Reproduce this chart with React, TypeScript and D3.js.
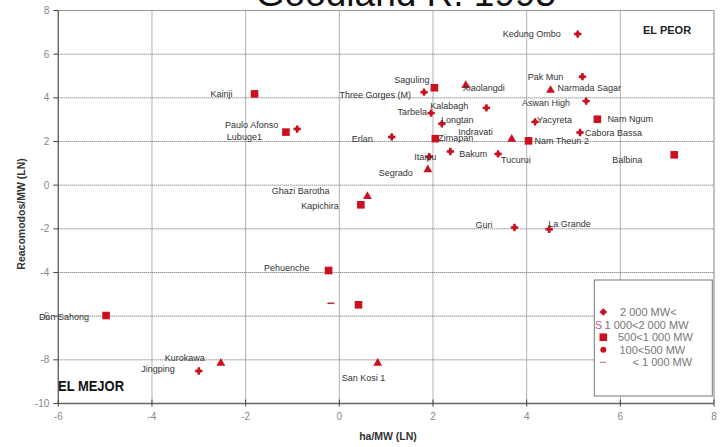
import React from "react";
import * as d3 from "d3";

// ---- data ----
const names = [
  "Kedung Ombo", "Pak Mun", "Narmada Sagar", "Aswan High", "Saguling", "Three Gorges (M)",
  "Xiaolangdi", "Kalabagh", "Tarbela", "Longtan", "Yacyreta", "Nam Ngum", "Cabora Bassa",
  "Indravati", "Nam Theun 2", "Erlan", "Zimapan", "Bakum", "Tucurui", "Itaipu", "Segrado",
  "Paulo Afonso", "Lubuge1", "Kainji", "Ghazi Barotha", "Kapichira", "Guri", "La Grande",
  "Pehuenche", "", "", "Don Sahong", "Kurokawa", "Jingping", "San Kosi 1", "Balbina",
];
const haPerMW = [
  5.09, 5.19, 4.51, 5.27, 2.03, 1.81,
  2.70, 3.14, 1.96, 2.19, 4.18, 5.51, 5.14,
  3.68, 4.04, 1.12, 2.05, 2.37, 3.39, 1.92, 1.89,
  -0.90, -1.14, -1.81, 0.60, 0.46, 3.74, 4.48,
  -0.23, -0.18, 0.41, -4.98, -2.53, -3.00, 0.82, 7.15,
];
const resettledPerMW = [
  6.92, 4.97, 4.37, 3.85, 4.46, 4.26,
  4.59, 3.54, 3.30, 2.81, 2.90, 3.02, 2.41,
  2.13, 2.03, 2.21, 2.13, 1.54, 1.43, 1.30, 0.73,
  2.57, 2.43, 4.18, -0.49, -0.90, -1.94, -2.02,
  -3.91, -5.41, -5.48, -5.97, -8.13, -8.51, -8.13, 1.39,
];
// d = diamond (2 000 MW<), t = 1 000<2 000 MW, s = square, c = circle, m = dash
const sizeClass = [
  "d", "d", "t", "d", "s", "d",
  "t", "d", "d", "d", "d", "s", "d",
  "t", "s", "d", "s", "d", "d", "d", "t",
  "d", "s", "s", "t", "s", "d", "d",
  "s", "m", "s", "s", "t", "d", "t", "s",
];
const xTicks = [-6, -4, -2, 0, 2, 4, 6, 8];
const yTicks = [-10, -8, -6, -4, -2, 0, 2, 4, 6, 8];
const legendLabels = ["2 000 MW<", "1 000<2 000 MW", "500<1 000 MW", "100<500 MW", "< 1 000 MW"];
const legendClasses = ["d", "t", "s", "c", "m"];

// ---- label layout (pixel offsets from marker) ----
const labelLayout: Record<string, [number, number, string]> = {
  "Kedung Ombo": [-17, 0, "end"],
  "Pak Mun": [-19, 0, "end"],
  "Narmada Sagar": [7, -2, "start"],
  "Aswan High": [-16, 2, "end"],
  "Saguling": [-5, -8, "end"],
  "Three Gorges (M)": [-13, 3, "end"],
  "Xiaolangdi": [-3, 3, "start"],
  "Kalabagh": [-18, -2, "end"],
  "Tarbela": [-4, -1, "end"],
  "Longtan": [-1, -4, "start"],
  "Yacyreta": [2, -2, "start"],
  "Nam Ngum": [10, 0, "start"],
  "Cabora Bassa": [5, 0, "start"],
  "Indravati": [-19, -7, "end"],
  "Nam Theun 2": [6, 0, "start"],
  "Erlan": [-19, 2, "end"],
  "Zimapan": [3, -1, "start"],
  "Bakum": [9, 2, "start"],
  "Tucurui": [3, 6, "start"],
  "Itaipu": [-15, 0, "start"],
  "Segrado": [-15, 4, "end"],
  "Paulo Afonso": [-19, -4, "end"],
  "Lubuge1": [-24, 5, "end"],
  "Kainji": [-22, 0, "end"],
  "Ghazi Barotha": [-38, -5, "end"],
  "Kapichira": [-22, 1, "end"],
  "Guri": [-22, -3, "end"],
  "La Grande": [-1, -5, "start"],
  "Pehuenche": [-19, -3, "end"],
  "Don Sahong": [-17, 1, "end"],
  "Kurokawa": [-16, -5, "end"],
  "Jingping": [-24, -2, "end"],
  "San Kosi 1": [-36, 15, "start"],
  "Balbina": [-32, 5, "end"],
};
const legendTextX = [620, 604.5, 618, 619.5, 632.5];

const W = 724, H = 447;
const L = 58.3, R = 714, T = 10.5, B = 403.5;
const RED = "#cc1020";
const FONT = "'Liberation Sans', Arial, sans-serif";

function Marker({ kind, x, y }: { kind: string; x: number; y: number }) {
  if (kind === "s") return <rect x={x - 3.8} y={y - 3.8} width={7.6} height={7.6} fill={RED} />;
  if (kind === "t") {
    const p = d3.symbol(d3.symbolTriangle, 34)();
    return <path d={p || ""} transform={`translate(${x},${y + 0.5})`} fill={RED} />;
  }
  if (kind === "c") return <circle cx={x} cy={y} r={3} fill={RED} />;
  if (kind === "m") return <line x1={x - 3.5} x2={x + 3.5} y1={y} y2={y} stroke="#b8303f" strokeWidth={1.6} />;
  // small star-like dot (diamond class)
  const p = d3.symbol(d3.symbolCross, 30)();
  return (
    <g transform={`translate(${x},${y})`}>
      <path d={p || ""} fill={RED} />
      <circle r={2.3} fill={RED} />
    </g>
  );
}

export default function App() {
  const x = d3.scaleLinear().domain([-6, 8]).range([L, R]);
  const y = d3.scaleLinear().domain([-10, 8]).range([B, T]);

  return (
    <svg width={W} height={H} style={{ position: "absolute", left: 0, top: 0, background: "#fff" }} fontFamily={FONT}>
      <rect x={0} y={0} width={W} height={H} fill="#fff" />
      {/* title, partially cut */}
      <text x={406} y={6} textAnchor="middle" fontSize={37} fill="#111">Goodland R. 1995</text>

      {/* grid */}
      {xTicks.slice(1, -1).map((t) => (
        <line key={"gx" + t} x1={x(t)} x2={x(t)} y1={T} y2={B} stroke="#666" strokeWidth={1} strokeDasharray="1,1" />
      ))}
      {yTicks.slice(1, -1).map((t) => (
        <line key={"gy" + t} x1={L} x2={R} y1={y(t)} y2={y(t)} stroke="#666" strokeWidth={1} strokeDasharray="1,1" />
      ))}

      {/* frame */}
      <line x1={L} x2={R} y1={T} y2={T} stroke="#999" strokeWidth={1.2} />
      <line x1={R} x2={R} y1={T} y2={B} stroke="#999" strokeWidth={1.2} />
      <line x1={L} x2={L} y1={T} y2={B} stroke="#666" strokeWidth={1.4} />
      <line x1={L} x2={R} y1={B} y2={B} stroke="#666" strokeWidth={1.4} />

      {/* ticks */}
      {yTicks.map((t) => (
        <g key={"yt" + t}>
          <line x1={L - 5} x2={L} y1={y(t)} y2={y(t)} stroke="#444" strokeWidth={1} />
          <text x={L - 9} y={y(t) + 3.5} textAnchor="end" fontSize={10} fill="#888">{t}</text>
        </g>
      ))}
      {xTicks.map((t) => (
        <g key={"xt" + t}>
          <line x1={x(t)} x2={x(t)} y1={B - 4} y2={B + 3} stroke="#444" strokeWidth={1} />
          <text x={x(t)} y={B + 16} textAnchor="middle" fontSize={10} fill="#888">{t}</text>
        </g>
      ))}

      {/* axis titles */}
      <text x={388} y={440} textAnchor="middle" fontSize={10.5} fontWeight="bold" fill="#333">ha/MW (LN)</text>
      <text transform={`translate(25,214) rotate(-90)`} textAnchor="middle" fontSize={10.5} fontWeight="bold" fill="#333">Reacomodos/MW (LN)</text>

      {/* corner labels */}
      <text x={643} y={34} fontSize={11} fontWeight="bold" fill="#222">EL PEOR</text>
      <text x={58} y={391} fontSize={15} fontWeight="bold" fill="#111" textLength={66} lengthAdjust="spacingAndGlyphs">EL MEJOR</text>

      {/* points */}
      {names.map((n, i) => {
        const px = x(haPerMW[i]);
        const py = y(resettledPerMW[i]);
        const lay = labelLayout[n];
        return (
          <g key={"p" + i}>
            <Marker kind={sizeClass[i]} x={px} y={py} />
            {n && lay && (
              <text x={px + lay[0]} y={py + lay[1] + 3} textAnchor={lay[2] as any} fontSize={9} fill="#333">{n}</text>
            )}
          </g>
        );
      })}

      {/* legend */}
      <rect x={594.3} y={280} width={118} height={116} fill="#fff" stroke="#777" strokeWidth={1} />
      {legendLabels.map((lab, i) => {
        const ly = 312 + i * 12.6;
        const k = legendClasses[i];
        return (
          <g key={"lg" + i}>
            {k === "t" ? (
              <text x={598.5} y={ly + 4} textAnchor="middle" fontSize={10.5} fill="#b06080">S</text>
            ) : k === "d" ? (
              <path d={d3.symbol(d3.symbolSquare, 30)() || ""} transform={`translate(603.3,${ly}) rotate(45)`} fill={RED} />
            ) : k === "m" ? (
              <line x1={600} x2={606} y1={ly} y2={ly} stroke="#d08090" strokeWidth={1.2} />
            ) : (
              <Marker kind={k} x={603.3} y={ly} />
            )}
            <text x={legendTextX[i]} y={ly + 4} fontSize={11} fill="#777">{lab}</text>
          </g>
        );
      })}
    </svg>
  );
}
